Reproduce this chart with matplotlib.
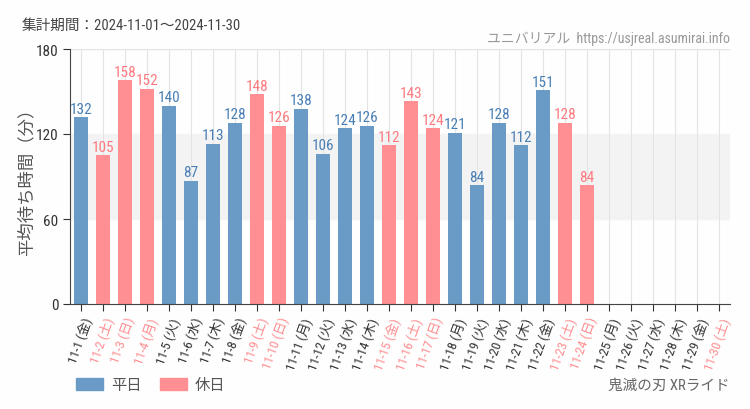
import matplotlib
matplotlib.use("Agg")
import matplotlib.pyplot as plt
from matplotlib.patches import Patch

plt.rcParams['font.family'] = ['Roboto Condensed', 'Noto Sans CJK JP', 'DejaVu Sans']

days = list(range(1, 31))
youbi = ["金", "土", "日", "月", "火", "水", "木", "金", "土", "日",
         "月", "火", "水", "木", "金", "土", "日", "月", "火", "水",
         "木", "金", "土", "日", "月", "火", "水", "木", "金", "土"]
kyujitsu = [2, 3, 4, 9, 10, 15, 16, 17, 23, 24, 30]
wait = [132, 105, 158, 152, 140, 87, 113, 128, 148, 126,
        138, 106, 124, 126, 112, 143, 124, 121, 84, 128,
        112, 151, 128, 84]

BLUE = "#6a9ac6"
PINK = "#ff8f93"
BLUE_TXT = "#4a7fb5"
PINK_TXT = "#ff7a80"
GRAY = "#555555"

fig = plt.figure(figsize=(7.5, 4.1), dpi=100)
fig.patch.set_facecolor("#fdfefd")
ax = fig.add_axes([70 / 750, 1 - 305 / 410, 660 / 750, 255 / 410])
ax.set_facecolor("#fdfefd")

ax.axhspan(60, 120, color="#f3f3f3", zorder=0)
for d in days:
    ax.axvline(d, color="#e4e4e4", lw=0.8, zorder=0)
ax.axhline(180, color="#e4e4e4", lw=1, zorder=0)

for i, v in enumerate(wait):
    d = days[i]
    hol = d in kyujitsu
    ax.bar(d, v, width=0.68, color=PINK if hol else BLUE, zorder=2)
    ax.text(d, v + 1, str(v), ha="center", va="bottom", fontsize=11,
            color=PINK_TXT if hol else BLUE_TXT, zorder=3)

ax.set_xlim(0.5, 30.5)
ax.set_ylim(0, 180)
ax.set_yticks([0, 60, 120, 180])
ax.set_xticks(days)
ax.set_xticklabels([f"11-{d} ({y})" for d, y in zip(days, youbi)],
                   rotation=70, ha="right", rotation_mode="anchor", fontsize=9.5)
for lab, d in zip(ax.get_xticklabels(), days):
    lab.set_color(PINK if d in kyujitsu else "#333333")
ax.tick_params(axis="y", labelsize=11, colors="#333333", length=5)
ax.tick_params(axis="x", length=5, color="#333333", pad=3)
for s in ["top", "right"]:
    ax.spines[s].set_visible(False)
for s in ["left", "bottom"]:
    ax.spines[s].set_color("#444444")

ax.set_ylabel("平均待ち時間（分）", fontsize=12.5, color=GRAY, labelpad=1)

fig.text(22 / 750, 1 - 26 / 410, "集計期間：2024-11-01～2024-11-30",
         fontsize=10.5, color="#444444", va="center")
fig.text(730 / 750, 1 - 39 / 410, "ユニバリアル  https://usjreal.asumirai.info",
         fontsize=10, color="#999999", va="center", ha="right")
fig.text(730 / 750, 1 - 386 / 410, "鬼滅の刃 XRライド",
         fontsize=10.5, color="#666666", va="center", ha="right")

handles = [Patch(color=BLUE), Patch(color=PINK)]
fig.legend(handles, ["平日", "休日"], loc="center left",
           bbox_to_anchor=(62 / 750, 1 - 386 / 410), ncol=2, frameon=False,
           fontsize=11, handlelength=1.8, handleheight=0.8, columnspacing=1.2,
           handletextpad=0.5, labelcolor="#555555")

fig.savefig("out.png", dpi=100, facecolor=fig.get_facecolor())
